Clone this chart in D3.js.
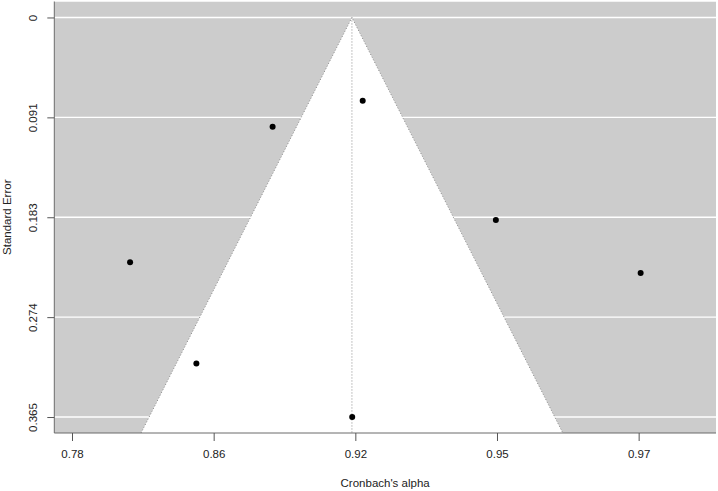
<!DOCTYPE html>
<html>
<head>
<meta charset="utf-8">
<script src="https://cdn.jsdelivr.net/npm/d3@7"></script>
<style>
  html, body { margin: 0; padding: 0; background: #ffffff; }
  svg { display: block; font-family: "Liberation Sans", Arial, sans-serif; }
</style>
</head>
<body>
<svg id="chart" width="718" height="491"></svg>
<script>
// ---- Data (effect on transformed scale -ln(1 - alpha), and its standard error) ----
const studyEffects = [2.526, 2.208, 2.996, 1.705, 3.507, 1.939, 2.489];
const studySE      = [0.0761, 0.0998, 0.1852, 0.2238, 0.2335, 0.3162, 0.3652];
const pooledEstimate = 2.488;

// Axis ticks (transformed positions and back-transformed labels)
const xTickValues = [1.5, 2.0, 2.5, 3.0, 3.5];
const xTickLabels = ["0.78", "0.86", "0.92", "0.95", "0.97"];
const yTickValues = [0, 0.0913, 0.1826, 0.2739, 0.3652];
const yTickLabels = ["0", "0.091", "0.183", "0.274", "0.365"];

const xTitle = "Cronbach's alpha";
const yTitle = "Standard Error";
const zCrit = 1.96;

// ---- Layout ----
const svg = d3.select("#chart");
const plot = { left: 54.3, right: 716, top: 1.5, bottom: 433 };

const x = d3.scaleLinear().domain([1.4375, 3.773]).range([plot.left, plot.right]);
const seMax = d3.max(yTickValues);
const ext = seMax * 0.04;
const y = d3.scaleLinear().domain([-ext, seMax + ext]).range([plot.top, plot.bottom]);

svg.append("defs").append("clipPath").attr("id", "clip")
  .append("rect")
  .attr("x", plot.left).attr("y", plot.top)
  .attr("width", plot.right - plot.left).attr("height", plot.bottom - plot.top);

const g = svg.append("g").attr("clip-path", "url(#clip)");

// background
g.append("rect")
  .attr("x", plot.left).attr("y", plot.top)
  .attr("width", plot.right - plot.left).attr("height", plot.bottom - plot.top)
  .attr("fill", "#cccccc");

// horizontal white grid lines
g.selectAll("line.grid").data(yTickValues).enter().append("line")
  .attr("class", "grid")
  .attr("x1", plot.left).attr("x2", plot.right)
  .attr("y1", d => y(d)).attr("y2", d => y(d))
  .attr("stroke", "#ffffff").attr("stroke-width", 1.3);

// funnel region
const seBottom = y.domain()[1];
const funnelPts = [
  [pooledEstimate - zCrit * seBottom, seBottom],
  [pooledEstimate, 0],
  [pooledEstimate + zCrit * seBottom, seBottom]
];
g.append("path")
  .attr("d", d3.line().x(d => x(d[0])).y(d => y(d[1]))(funnelPts) + "Z")
  .attr("fill", "#ffffff");

// funnel edges (dotted)
g.append("path")
  .attr("d", d3.line().x(d => x(d[0])).y(d => y(d[1]))(funnelPts))
  .attr("fill", "none")
  .attr("stroke", "#8a8a8a").attr("stroke-width", 1)
  .attr("stroke-dasharray", "1,2");

// reference line
g.append("line")
  .attr("x1", x(pooledEstimate)).attr("x2", x(pooledEstimate))
  .attr("y1", y(0)).attr("y2", y(seBottom))
  .attr("stroke", "#8a8a8a").attr("stroke-width", 1)
  .attr("stroke-dasharray", "1,2");

// points
const pts = studyEffects.map((v, i) => ({ yi: v, se: studySE[i] }));
g.selectAll("circle.pt").data(pts).enter().append("circle")
  .attr("class", "pt")
  .attr("cx", d => x(d.yi)).attr("cy", d => y(d.se))
  .attr("r", 3).attr("fill", "#000000");

// L-shaped box
svg.append("path")
  .attr("d", `M${plot.left},${plot.top}V${plot.bottom}H${plot.right}`)
  .attr("fill", "none").attr("stroke", "#6a6a6a").attr("stroke-width", 1);

// x axis
const xAxis = d3.axisBottom(x)
  .tickValues(xTickValues)
  .tickFormat((d, i) => xTickLabels[i])
  .tickSize(8).tickPadding(9);
const gx = svg.append("g").attr("transform", `translate(0,${plot.bottom})`).call(xAxis);
gx.select(".domain").remove();
gx.selectAll(".tick line").attr("stroke", "#555");
gx.selectAll(".tick text").attr("fill", "#222").attr("font-size", "11.5px")
  .attr("font-family", "Liberation Sans, Arial, sans-serif");

// y axis
const yAxis = d3.axisLeft(y)
  .tickValues(yTickValues)
  .tickFormat((d, i) => yTickLabels[i])
  .tickSize(7);
const gy = svg.append("g").attr("transform", `translate(${plot.left},0)`).call(yAxis);
gy.select(".domain").remove();
gy.selectAll(".tick line").attr("stroke", "#555");
gy.selectAll(".tick text")
  .attr("fill", "#222").attr("font-size", "11.5px")
  .attr("font-family", "Liberation Sans, Arial, sans-serif")
  .attr("x", null).attr("dy", null)
  .attr("text-anchor", "middle")
  .attr("transform", "translate(-17,0) rotate(-90)");

// axis titles
svg.append("text")
  .attr("x", (plot.left + plot.right) / 2).attr("y", 487)
  .attr("text-anchor", "middle").attr("font-size", "11.5px").attr("fill", "#222")
  .text(xTitle);
svg.append("text")
  .attr("transform", `translate(10.5,${(plot.top + plot.bottom) / 2}) rotate(-90)`)
  .attr("text-anchor", "middle").attr("font-size", "11.5px").attr("fill", "#222")
  .text(yTitle);
</script>
</body>
</html>
